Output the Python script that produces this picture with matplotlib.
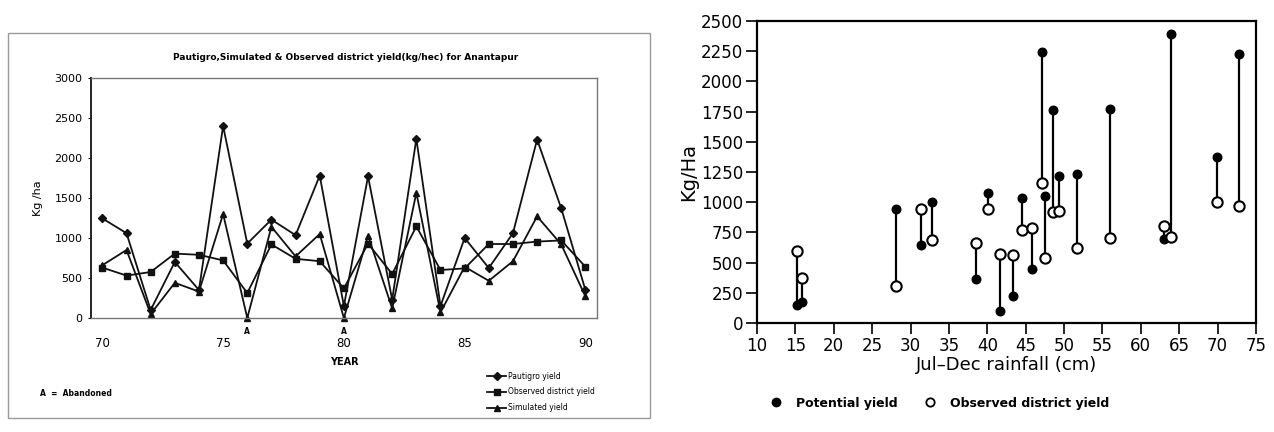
import matplotlib
matplotlib.use("Agg")
import matplotlib.pyplot as plt
from matplotlib.lines import Line2D
from matplotlib.patches import Rectangle

# ---------------- Left chart data ----------------
years = list(range(70, 91))
pautigro_yield = [1245, 1060, 100, 700, 350, 2400, 930, 1230, 1035, 1780, 150,
                  1770, 230, 2240, 150, 1000, 625, 1060, 2230, 1370, 350]
observed_yield = [630, 530, 575, 805, 790, 720, 312, 920, 740, 710, 370,
                  930, 550, 1145, 600, 620, 925, 925, 955, 970, 640]
simulated_yield = [660, 850, 50, 440, 330, 1300, 0, 1140, 770, 1050, 0,
                   1030, 120, 1565, 70, 640, 465, 710, 1270, 920, 270]
abandoned_years = [76, 80]
left_xticks = [70, 75, 80, 85, 90]
left_yticks = [0, 500, 1000, 1500, 2000, 2500, 3000]

# ---------------- Right chart data ----------------
rainfall = [15.2, 15.8, 28.1, 31.3, 32.8, 38.5, 40.1, 41.7, 43.4, 44.5, 45.8,
            47.1, 47.5, 48.5, 49.4, 51.7, 56.0, 63.0, 63.9, 69.9, 72.8]
potential = [150, 175, 940, 645, 1005, 365, 1080, 100, 220, 1035, 445,
             2245, 1055, 1765, 1220, 1235, 1770, 695, 2390, 1375, 2230]
observed_district = [600, 375, 310, 945, 685, 665, 940, 575, 565, 770, 785,
                     1160, 535, 920, 930, 620, 705, 800, 715, 1000, 965]
right_xticks = list(range(10, 80, 5))
right_yticks = list(range(0, 2750, 250))

W, H = 1274, 432
fig = plt.figure(figsize=(W / 100, H / 100), dpi=100)
fig.patch.set_facecolor("white")

def fx(px):
    return px / W

def fy(py):
    return 1 - py / H

# frame around left panel
fig.patches.append(Rectangle((fx(8), fy(418)), fx(650) - fx(8), fy(33) - fy(418),
                             transform=fig.transFigure, fill=False,
                             edgecolor="#9a9a9a", linewidth=1.0))

# ---------------- Left chart ----------------
axL = fig.add_axes([fx(91), fy(318), fx(597) - fx(91), fy(78) - fy(318)])
lc = "#111111"
axL.plot(years, pautigro_yield, color=lc, lw=1.3, marker="D", ms=4,
         label="Pautigro yield", clip_on=False)
axL.plot(years, observed_yield, color=lc, lw=1.3, marker="s", ms=4.5,
         label="Observed district yield", clip_on=False)
axL.plot(years, simulated_yield, color=lc, lw=1.3, marker="^", ms=5,
         label="Simulated yield", clip_on=False)
for yr in abandoned_years:
    axL.annotate("A", (yr, 0), xytext=(0, -10), textcoords="offset points",
                 ha="center", va="center", fontsize=5.5, fontweight="bold")
axL.set_xlim(69.53, 90.48)
axL.set_ylim(0, 3000)
axL.set_xticks(left_xticks)
axL.set_xticklabels([str(t) for t in left_xticks])
axL.set_yticks(left_yticks)
axL.tick_params(axis="x", length=0, pad=14, labelsize=8.5)
axL.tick_params(axis="y", length=2, pad=4, labelsize=8)
axL.spines["left"].set_color("#222222")
axL.spines["left"].set_linewidth(1.4)
for s in ["top", "right", "bottom"]:
    axL.spines[s].set_color("#777777")
    axL.spines[s].set_linewidth(1.0)
axL.set_xlabel("YEAR", fontsize=7, fontweight="bold", labelpad=5)
axL.set_ylabel("Kg /ha", fontsize=8, labelpad=8)
fig.text(fx(346), fy(57), "Pautigro,Simulated & Observed district yield(kg/hec) for Anantapur",
         ha="center", va="center", fontsize=6.5, fontweight="bold")
fig.text(fx(40), fy(393), "A  =  Abandoned", ha="left", va="center",
         fontsize=5.5, fontweight="bold")
fig.legend(handles=axL.get_lines(), labels=[l.get_label() for l in axL.get_lines()],
           loc="center left", bbox_to_anchor=(fx(484), fy(392)),
           frameon=False, fontsize=5.5, handlelength=2.5, handletextpad=0.3,
           labelspacing=0.9, borderaxespad=0)

# ---------------- Right chart ----------------
axR = fig.add_axes([fx(757), fy(323), fx(1256) - fx(757), fy(21) - fy(323)])
axR.vlines(rainfall, potential, observed_district, color="black", lw=1.6, zorder=2)
axR.scatter(rainfall, potential, s=38, color="black", zorder=3, label="Potential yield",
            clip_on=False)
axR.scatter(rainfall, observed_district, s=55, facecolor="white", edgecolor="black",
            linewidth=1.5, zorder=4, label="Observed district yield", clip_on=False)
axR.set_xlim(10, 75)
axR.set_ylim(0, 2500)
axR.set_xticks(right_xticks)
axR.set_yticks(right_yticks)
axR.tick_params(axis="both", direction="out", length=8, width=1.2, labelsize=12,
                pad=2)
for s in axR.spines.values():
    s.set_linewidth(1.6)
axR.set_xlabel("Jul\u2013Dec rainfall (cm)", fontsize=13, labelpad=1)
axR.set_ylabel("Kg/Ha", fontsize=14, labelpad=2)

h1 = Line2D([], [], marker="o", color="black", ls="none", ms=6)
h2 = Line2D([], [], marker="o", markerfacecolor="white", markeredgecolor="black",
            markeredgewidth=1.3, ls="none", ms=6)
fig.legend([h1, h2], ["Potential yield", "Observed district yield"],
           loc="center left", bbox_to_anchor=(fx(758), fy(403)), ncol=2,
           frameon=False, columnspacing=1.6, handletextpad=0.6,
           borderaxespad=0, prop={"weight": "bold", "size": 9})

fig.savefig("out.png", dpi=100)
